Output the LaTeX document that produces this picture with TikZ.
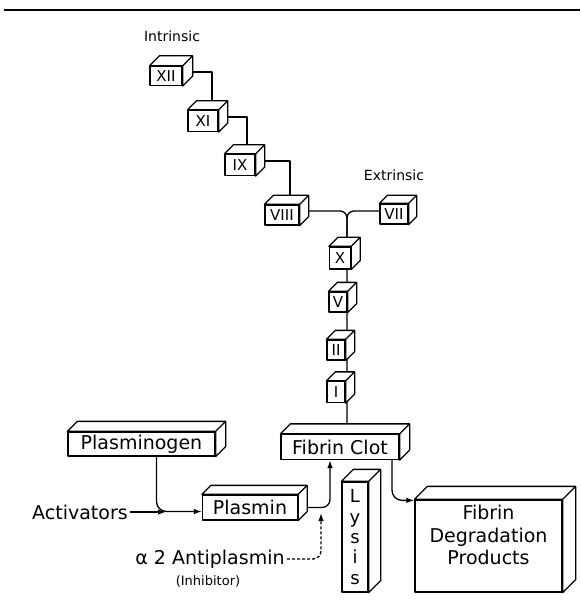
\documentclass[tikz,border=0pt]{standalone}
\usepackage{fontspec}
\setmainfont{DejaVu Sans}
\usetikzlibrary{arrows.meta,calc,backgrounds}

\begin{document}
\begin{tikzpicture}[x=1pt, y=-1pt, line width=1.3pt, line join=round,
  fac/.style={draw, fill=white, inner sep=1pt, minimum height=20pt,
              font=\fontsize{15}{15}\selectfont},
  slab/.style={draw, fill=white, inner sep=2pt, align=center,
               font=\fontsize{19}{22.5}\selectfont},
  lbl/.style={inner sep=2pt, font=\fontsize{19}{22}\selectfont},
  tag/.style={inner sep=1pt, font=\fontsize{14}{14}\selectfont},
  wire/.style={line width=1.3pt, line join=round},
  arr/.style={wire, -{Latex[length=8pt, width=5.5pt]}}]
\useasboundingbox (0,0) rectangle (580,609);
\draw[line width=2pt] (4,10) -- (580,10);
% coagulation cascade
\node[tag] (intr) at (172,36) {Intrinsic};
\node[tag] (extr) at (394,175) {Extrinsic};
\node[fac, minimum width=32pt, minimum height=19pt] (f12) at (166,76) {XII};
\node[fac, minimum width=30pt, minimum height=21pt] (f11) at (203,121) {XI};
\node[fac, minimum width=30pt, minimum height=21pt] (f9) at (240,165) {IX};
\node[fac, minimum width=34pt] (f8) at (282,215) {VIII};
\node[fac, minimum width=28pt] (f7) at (394,214) {VII};
\node[fac, minimum width=21pt, minimum height=22pt] (f10) at (340,258) {X};
\node[fac, minimum width=18pt] (f5) at (338,302) {V};
\node[fac, minimum width=18pt] (f2) at (336,350) {II};
\node[fac, minimum width=18pt, minimum height=21pt] (f1) at (336,392) {I};
% fibrinolysis
\node[slab, minimum width=147pt, minimum height=24pt] (pg) at (141.5,444) {Plasminogen};
\node[slab, minimum width=118pt, minimum height=25pt] (fc) at (340,447) {Fibrin Clot};
\node[slab, minimum width=95pt, minimum height=25pt] (pl) at (250,507.5) {Plasmin};
\node[slab, minimum width=26pt, minimum height=110pt,
      font=\fontsize{18}{20.3}\selectfont] (ly) at (355,537) {L\\y\\s\\i\\s};
\node[slab, minimum width=147pt, minimum height=92pt] (fdp) at (488.5,546) {};
\node[lbl, align=center, font=\fontsize{19}{22.5}\selectfont] (fdpt) at (488.5,535)
  {Fibrin\\Degradation\\Products};
\node[lbl] (act) at (80,512) {Activators};
\node[lbl] (ap) at (210,559) {α 2 Antiplasmin};
\node[inner sep=1pt, font=\fontsize{13}{13}\selectfont] (inhb) at (208,581) {(Inhibitor)};
\foreach \n/\dep in {f12/10,f11/9,f9/9,f8/9,f7/8,f10/9,f5/9,f2/9,f1/9,pg/10,fc/10,pl/9,ly/12,fdp/13}
  \filldraw[fill=white] (\n.north west) -- ++(\dep,-\dep) -| ($(\n.south east)+(\dep,-\dep)$)
    -- (\n.south east) -- (\n.north east) -- cycle (\n.north east) -- ++(\dep,-\dep);
\begin{scope}[on background layer]
\draw[wire] ([yshift=4pt]f12.center) -| ([xshift=9pt]f11.center);
\draw[wire] ([yshift=4pt]f11.center) -| ([xshift=7pt]f9.center);
\draw[wire] ([yshift=4pt]f9.center) -| ([xshift=8pt]f8.center);
\coordinate (jn) at (347,211);
\draw[wire, rounded corners=7pt] (f8.center |- jn) -- (jn) -- (jn |- fc.center);
\draw[wire, rounded corners=7pt] (f7.center |- jn) -- (jn) -- (jn |- f10.center);
\draw[arr, rounded corners=10pt] ([xshift=15pt]pg.south) |- ([yshift=-4pt]pl.west);
\draw[arr, rounded corners=8pt] (pl.center) -| ([xshift=-10pt]fc.south);
\draw[arr, rounded corners=10pt] ([xshift=52pt]fc.south) |- ([yshift=-1pt]fdp.north west);
\end{scope}
\coordinate (mg) at (166,512);
\coordinate (inh) at (321,513);
\draw[arr] (act) -- (mg);
\draw[arr, dash pattern=on 3pt off 2pt, rounded corners=8pt] (ap.east) -| (inh);
\end{tikzpicture}
\end{document}
